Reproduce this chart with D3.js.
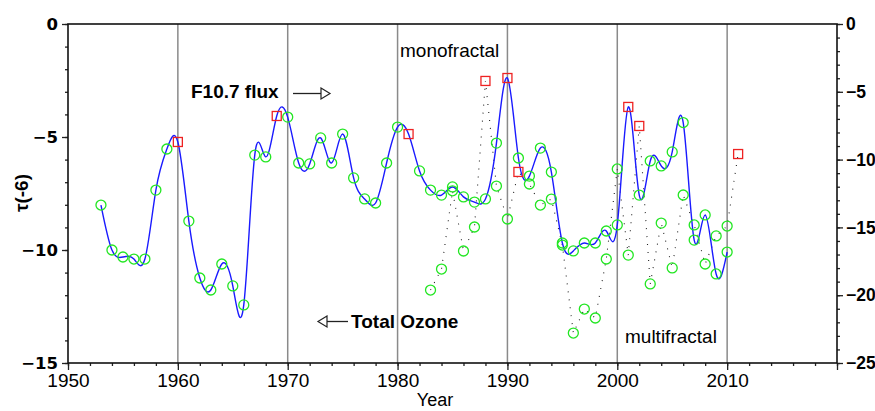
<!DOCTYPE html>
<html><head><meta charset="utf-8">
<script src="https://cdn.jsdelivr.net/npm/d3@7"></script>
<style>body{margin:0;background:#fff}</style>
</head><body><svg id="c" width="875" height="411"></svg>
<script>
// ---- data ----
const ozoneYears = [1953,1954,1955,1956,1957,1958,1959,1960,1961,1962,1963,1964,1965,1966,1967,1968,1969,1970,
  1971,1972,1973,1974,1975,1976,1977,1978,1979,1980,1981,1982,1983,1984,1985,1986,1987,1988,1989,1990,
  1991,1992,1993,1994,1995,1996,1997,1998,1999,2000,2001,2002,2003,2004,2005,2006,2007,2008,2009,2010];
const ozoneValues = [-8.01,-10.00,-10.31,-10.40,-10.40,-7.35,-5.53,-5.22,-8.72,-11.24,-11.77,-10.62,-11.59,-12.43,
  -5.80,-5.88,-4.07,-4.12,-6.15,-6.19,-5.04,-6.15,-4.87,-6.81,-7.74,-7.92,-6.15,-4.56,-4.87,-6.50,
  -7.35,-7.57,-7.21,-7.65,-7.88,-7.74,-5.27,-2.39,-5.93,-6.73,-5.49,-6.55,-9.69,-10.04,-9.69,-9.69,
  -9.16,-8.89,-3.67,-7.57,-6.06,-6.28,-5.66,-4.36,-9.56,-8.45,-11.06,-10.09];
const ozoneSquareYears = [1960,1969,1981,1990,2001];

const fluxYears = [1983,1984,1985,1986,1987,1988,1989,1990,1991,1992,1993,1994,1995,1996,1997,1998,1999,2000,
  2001,2002,2003,2004,2005,2006,2007,2008,2009,2010,2011];
const fluxValues = [-19.62,-18.07,-12.30,-16.74,-14.97,-4.20,-11.95,-14.38,-10.91,-11.80,-13.35,-12.91,-16.30,
  -22.79,-21.02,-21.68,-17.33,-10.69,-17.04,-7.52,-19.17,-14.68,-17.99,-12.61,-14.82,-17.70,-15.63,-14.90,-9.59];
const fluxSquareYears = [1988,1991,2002,2011];

const xTickYears = [1950,1960,1970,1980,1990,2000,2010];
const gridYears = [1960,1970,1980,1990,2000,2010];
const leftTicks = [0,-5,-10,-15];
const rightTicks = [0,-5,-10,-15,-20,-25];

// ---- layout ----
const L = 68, R = 837, T = 24, B = 363;
const svg = d3.select("#c");
const x = d3.scaleLinear().domain([1950, 2020]).range([L, R]);
const yL = d3.scaleLinear().domain([-15, 0]).range([B, T]);
const yR = d3.scaleLinear().domain([-25, 0]).range([B, T]);

// grid lines
svg.append("g").selectAll("line").data(gridYears).join("line")
  .attr("x1", d => x(d)).attr("x2", d => x(d)).attr("y1", T).attr("y2", B)
  .attr("stroke", "#8a8a8a").attr("stroke-width", 1.5);

// axes
const axisStyle = g => { g.select(".domain").remove(); g.selectAll("line").attr("stroke", "#222").attr("stroke-width", 1.3); };
// minor ticks
svg.append("g").attr("transform", `translate(0,${B})`)
  .call(d3.axisBottom(x).tickValues(d3.range(1950, 2021, 2)).tickSize(3).tickFormat(""))
  .call(axisStyle);
svg.append("g").attr("transform", `translate(${L},0)`)
  .call(d3.axisLeft(yL).tickValues(d3.range(-15, 1, 1)).tickSize(3).tickFormat(""))
  .call(axisStyle);
svg.append("g").attr("transform", `translate(${R},0)`)
  .call(d3.axisRight(yR).tickValues(d3.range(-25, 1, 1)).tickSize(3).tickFormat(""))
  .call(axisStyle);
// major ticks
const xa = svg.append("g").attr("transform", `translate(0,${B})`)
  .call(d3.axisBottom(x).tickValues([...xTickYears, 2020]).tickSize(7).tickPadding(4)
    .tickFormat(d => xTickYears.includes(d) ? d : ""))
  .call(axisStyle);
xa.selectAll("text").attr("font-family", "Liberation Sans, Arial, sans-serif").attr("font-size", 19).attr("fill", "#000");
const la = svg.append("g").attr("transform", `translate(${L},0)`)
  .call(d3.axisLeft(yL).tickValues(leftTicks).tickSize(6).tickPadding(4))
  .call(axisStyle);
la.selectAll("text").attr("font-family", "DejaVu Sans, sans-serif").attr("font-weight", "bold").attr("font-size", 16.5).attr("fill", "#000");
const ra = svg.append("g").attr("transform", `translate(${R},0)`)
  .call(d3.axisRight(yR).tickValues(rightTicks).tickSize(6).tickPadding(3))
  .call(axisStyle);
ra.selectAll("text").attr("font-family", "Liberation Sans, Arial, sans-serif").attr("font-weight", "bold").attr("font-size", 17.5).attr("fill", "#000");

// frame
svg.append("rect").attr("x", L).attr("y", T).attr("width", R - L).attr("height", B - T)
  .attr("fill", "none").attr("stroke", "#111").attr("stroke-width", 1.6);

// data
const ozone = ozoneYears.map((yr, i) => ({ yr, v: ozoneValues[i] }));
const flux = fluxYears.map((yr, i) => ({ yr, v: fluxValues[i] }));

// dotted flux line
svg.append("path").datum(flux)
  .attr("d", d3.line().x(d => x(d.yr)).y(d => yR(d.v)))
  .attr("fill", "none").attr("stroke", "#222").attr("stroke-width", 1.1)
  .attr("stroke-dasharray", "1,7");

// ozone spline
svg.append("path").datum(ozone)
  .attr("d", d3.line().curve(d3.curveNatural).x(d => x(d.yr)).y(d => yL(d.v)))
  .attr("fill", "none").attr("stroke", "#1a1aff").attr("stroke-width", 1.4);

function markers(data, yScale, squares) {
  const circ = data.filter(d => !squares.includes(d.yr));
  const sq = data.filter(d => squares.includes(d.yr));
  svg.append("g").selectAll("circle").data(circ).join("circle")
    .attr("cx", d => x(d.yr)).attr("cy", d => yScale(d.v)).attr("r", 5)
    .attr("fill", "none").attr("stroke", "#22e622").attr("stroke-width", 1.3);
  svg.append("g").selectAll("rect").data(sq).join("rect")
    .attr("x", d => x(d.yr) - 4.5).attr("y", d => yScale(d.v) - 4.5).attr("width", 9).attr("height", 9)
    .attr("fill", "none").attr("stroke", "#ee2222").attr("stroke-width", 1.3);
}
markers(flux, yR, fluxSquareYears);
markers(ozone, yL, ozoneSquareYears);

// annotations
const sans = "Liberation Sans, Arial, sans-serif";
svg.append("text").attr("x", 191).attr("y", 97.5).attr("font-family", sans).attr("font-weight", "bold")
  .attr("font-size", 19).text("F10.7 flux");
svg.append("text").attr("x", 351).attr("y", 328).attr("font-family", sans).attr("font-weight", "bold")
  .attr("font-size", 19).text("Total Ozone");
svg.append("text").attr("x", 400).attr("y", 57).attr("font-family", sans)
  .attr("font-size", 19).text("monofractal");
svg.append("text").attr("x", 625).attr("y", 343).attr("font-family", sans)
  .attr("font-size", 19).text("multifractal");

// arrows
svg.append("line").attr("x1", 293).attr("x2", 321).attr("y1", 93.5).attr("y2", 93.5).attr("stroke", "#222").attr("stroke-width", 1.3);
svg.append("path").attr("d", "M321,88 L330,93.5 L321,99 Z").attr("fill", "#fff").attr("stroke", "#222").attr("stroke-width", 1.2);
svg.append("line").attr("x1", 327).attr("x2", 348).attr("y1", 321.5).attr("y2", 321.5).attr("stroke", "#222").attr("stroke-width", 1.3);
svg.append("path").attr("d", "M327,316 L318,321.5 L327,327 Z").attr("fill", "#fff").attr("stroke", "#222").attr("stroke-width", 1.2);

// axis titles
svg.append("text").attr("transform", "translate(28,193) rotate(-90)").attr("text-anchor", "middle")
  .attr("font-family", sans).attr("font-weight", "bold").attr("font-size", 19).text("τ(-6)");
svg.append("text").attr("x", 435).attr("y", 406).attr("text-anchor", "middle")
  .attr("font-family", sans).attr("font-size", 18).text("Year");
</script>
</body></html>
